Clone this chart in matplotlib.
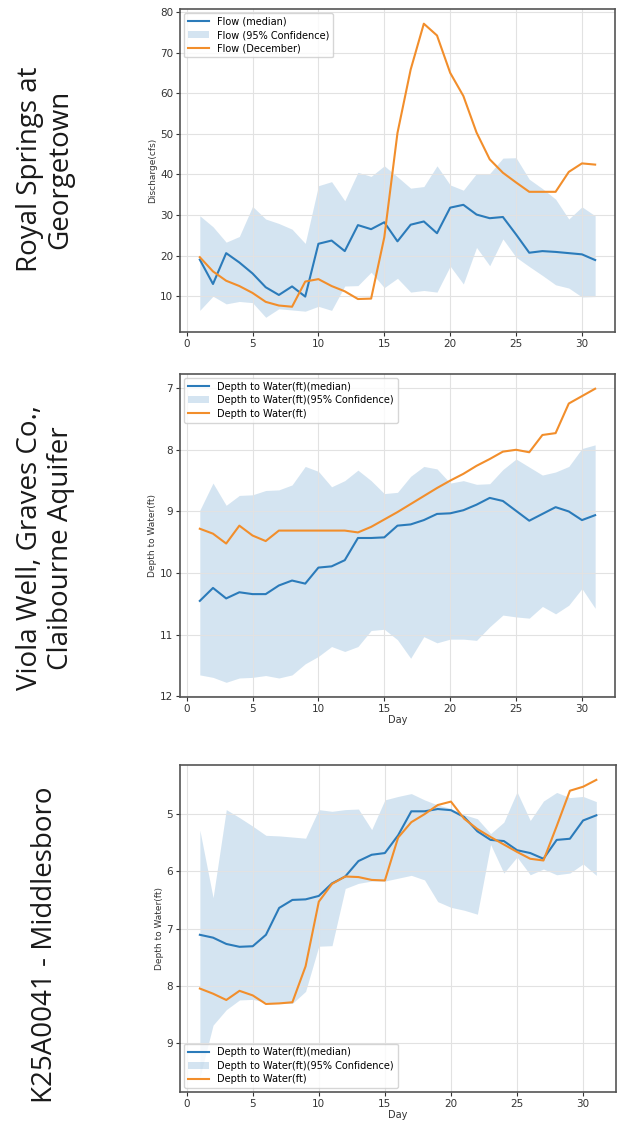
import numpy as np
import matplotlib
matplotlib.use("Agg")
import matplotlib.pyplot as plt

days = np.arange(1, 32)

# Royal Springs at Georgetown - discharge (cfs)
flow_median = [19.0, 13.0, 20.6, 18.3, 15.6, 12.2, 10.3, 12.4, 9.9, 22.9,
               23.7, 21.1, 27.5, 26.5, 28.2, 23.5, 27.6, 28.4, 25.5, 31.8,
               32.5, 30.1, 29.2, 29.5, 25.2, 20.7, 21.1, 20.9, 20.6, 20.3, 18.9]
flow_upper = [29.8, 27.1, 23.3, 24.7, 32.1, 29.0, 27.9, 26.5, 23.0, 37.2,
              38.2, 33.5, 40.5, 39.5, 42.1, 39.4, 36.6, 37.0, 42.1, 37.4,
              36.1, 40.2, 40.2, 44.0, 44.1, 38.8, 36.5, 33.9, 29.0, 32.0, 29.8]
flow_lower = [6.5, 10.0, 8.1, 8.7, 8.4, 4.8, 6.9, 6.6, 6.3, 7.5,
              6.5, 12.5, 12.6, 15.9, 12.1, 14.4, 11.0, 11.4, 11.0, 17.4,
              13.0, 22.0, 17.5, 24.1, 19.6, 17.3, 15.1, 12.8, 12.0, 9.8, 9.9]
flow_dec = [19.6, 16.1, 13.8, 12.5, 10.8, 8.6, 7.7, 7.4, 13.6, 14.2,
            12.5, 11.2, 9.3, 9.4, 24.5, 50.2, 65.8, 77.1, 74.2, 65.0,
            59.3, 50.3, 43.7, 40.4, 38.0, 35.7, 35.7, 35.7, 40.6, 42.7, 42.4]

# Viola Well, Graves Co. - depth to water (ft)
viola_median = [10.45, 10.24, 10.41, 10.31, 10.34, 10.34, 10.20, 10.12, 10.17, 9.91,
                9.89, 9.79, 9.43, 9.43, 9.42, 9.23, 9.21, 9.14, 9.04, 9.03,
                8.98, 8.89, 8.78, 8.83, 8.99, 9.15, 9.04, 8.93, 9.00, 9.14, 9.06]
viola_upper = [8.98, 8.54, 8.90, 8.74, 8.73, 8.66, 8.65, 8.57, 8.27, 8.35,
               8.60, 8.50, 8.33, 8.50, 8.71, 8.69, 8.43, 8.27, 8.31, 8.54,
               8.50, 8.56, 8.55, 8.32, 8.15, 8.28, 8.41, 8.36, 8.27, 7.98, 7.92]
viola_lower = [11.65, 11.69, 11.77, 11.70, 11.69, 11.66, 11.70, 11.65, 11.47, 11.35,
               11.19, 11.27, 11.19, 10.93, 10.91, 11.08, 11.38, 11.03, 11.13, 11.07,
               11.07, 11.09, 10.87, 10.68, 10.71, 10.73, 10.54, 10.66, 10.52, 10.25, 10.57]
viola_obs = [9.28, 9.36, 9.52, 9.23, 9.39, 9.48, 9.31, 9.31, 9.31, 9.31,
             9.31, 9.31, 9.34, 9.25, 9.13, 9.01, 8.88, 8.75, 8.62, 8.50,
             8.39, 8.26, 8.15, 8.03, 8.00, 8.04, 7.76, 7.73, 7.25, 7.13, 7.01]

# K25A0041 - Middlesboro - depth to water (ft)
mid_median = [7.11, 7.16, 7.27, 7.32, 7.31, 7.11, 6.64, 6.50, 6.49, 6.43,
              6.21, 6.09, 5.82, 5.71, 5.68, 5.37, 4.95, 4.95, 4.91, 4.93,
              5.05, 5.30, 5.45, 5.47, 5.63, 5.68, 5.78, 5.45, 5.43, 5.11, 5.02]
mid_upper = [5.28, 6.46, 4.92, 5.06, 5.21, 5.37, 5.38, 5.40, 5.42, 4.92,
             4.95, 4.92, 4.91, 5.27, 4.75, 4.69, 4.64, 4.75, 4.84, 4.90,
             5.01, 5.08, 5.34, 5.14, 4.61, 5.11, 4.77, 4.62, 4.71, 4.69, 4.78]
mid_lower = [9.60, 8.69, 8.42, 8.25, 8.24, 8.29, 8.31, 8.31, 8.10, 7.31,
             7.30, 6.30, 6.21, 6.17, 6.17, 6.12, 6.07, 6.15, 6.53, 6.63,
             6.68, 6.75, 5.53, 6.03, 5.75, 6.06, 5.96, 6.06, 6.03, 5.87, 6.07]
mid_obs = [8.05, 8.14, 8.25, 8.09, 8.17, 8.32, 8.31, 8.29, 7.66, 6.53,
           6.22, 6.09, 6.10, 6.15, 6.16, 5.41, 5.14, 5.00, 4.84, 4.78,
           5.08, 5.26, 5.40, 5.53, 5.66, 5.78, 5.81, 5.21, 4.59, 4.52, 4.40]

site_names = ["Royal Springs at\nGeorgetown",
              "Viola Well, Graves Co.,\nClaibourne Aquifer",
              "K25A0041 - Middlesboro"]

fig = plt.figure(figsize=(6.23, 11.28), dpi=100)
ax1 = fig.add_axes([0.289, 0.7057, 0.698, 0.2863])
ax2 = fig.add_axes([0.289, 0.3821, 0.698, 0.2863])
ax3 = fig.add_axes([0.289, 0.0319, 0.700, 0.2899])

def panel(ax, med, lo, hi, obs, names, ylabel, loc):
    ax.plot(days, med, color="#2b7bba", lw=1.5, label=names[0])
    ax.fill_between(days, lo, hi, color="#2b7bba", alpha=0.2, lw=0, label=names[1])
    ax.plot(days, obs, color="#f28e2b", lw=1.5, label=names[2])
    ax.set_ylabel(ylabel, fontsize=6.5, labelpad=2, color="#333333")
    ax.tick_params(labelsize=7.5, length=3, pad=2, colors="#333333")
    ax.grid(True, color="#e2e2e2", lw=0.8)
    for s in ax.spines.values():
        s.set_color("#555555")
        s.set_linewidth(1.2)
    ax.legend(loc=loc, fontsize=7, framealpha=0.8, borderaxespad=0.4,
              handlelength=2.2, labelspacing=0.35)

panel(ax1, flow_median, flow_lower, flow_upper, flow_dec,
      ["Flow (median)", "Flow (95% Confidence)", "Flow (December)"],
      "Discharge(cfs)", "upper left")
ax1.set_xticks([0, 5, 10, 15, 20, 25, 30])
ax1.set_yticks([10, 20, 30, 40, 50, 60, 70, 80])

wl = ["Depth to Water(ft)(median)", "Depth to Water(ft)(95% Confidence)", "Depth to Water(ft)"]
panel(ax2, viola_median, viola_lower, viola_upper, viola_obs, wl,
      "Depth to Water(ft)", "upper left")
ax2.invert_yaxis()
ax2.set_xlabel("Day", fontsize=7, labelpad=1, color="#333333")
ax2.set_xticks([0, 5, 10, 15, 20, 25, 30])

panel(ax3, mid_median, mid_lower, mid_upper, mid_obs, wl,
      "Depth to Water(ft)", "lower left")
ax3.invert_yaxis()
ax3.set_xlabel("Day", fontsize=7, labelpad=1, color="#333333")
ax3.set_xticks([0, 5, 10, 15, 20, 25, 30])
ax3.set_yticks([5, 6, 7, 8, 9])

label_y = [169 / 1128, 548 / 1128, 945 / 1128]
for name, y in zip(site_names, label_y):
    fig.text(0.073, 1 - y, name, rotation=90, ha="center", va="center",
             fontsize=20, family="Open Sans", linespacing=1.1, color="#1a1a1a")

fig.savefig("out.png", dpi=100)
